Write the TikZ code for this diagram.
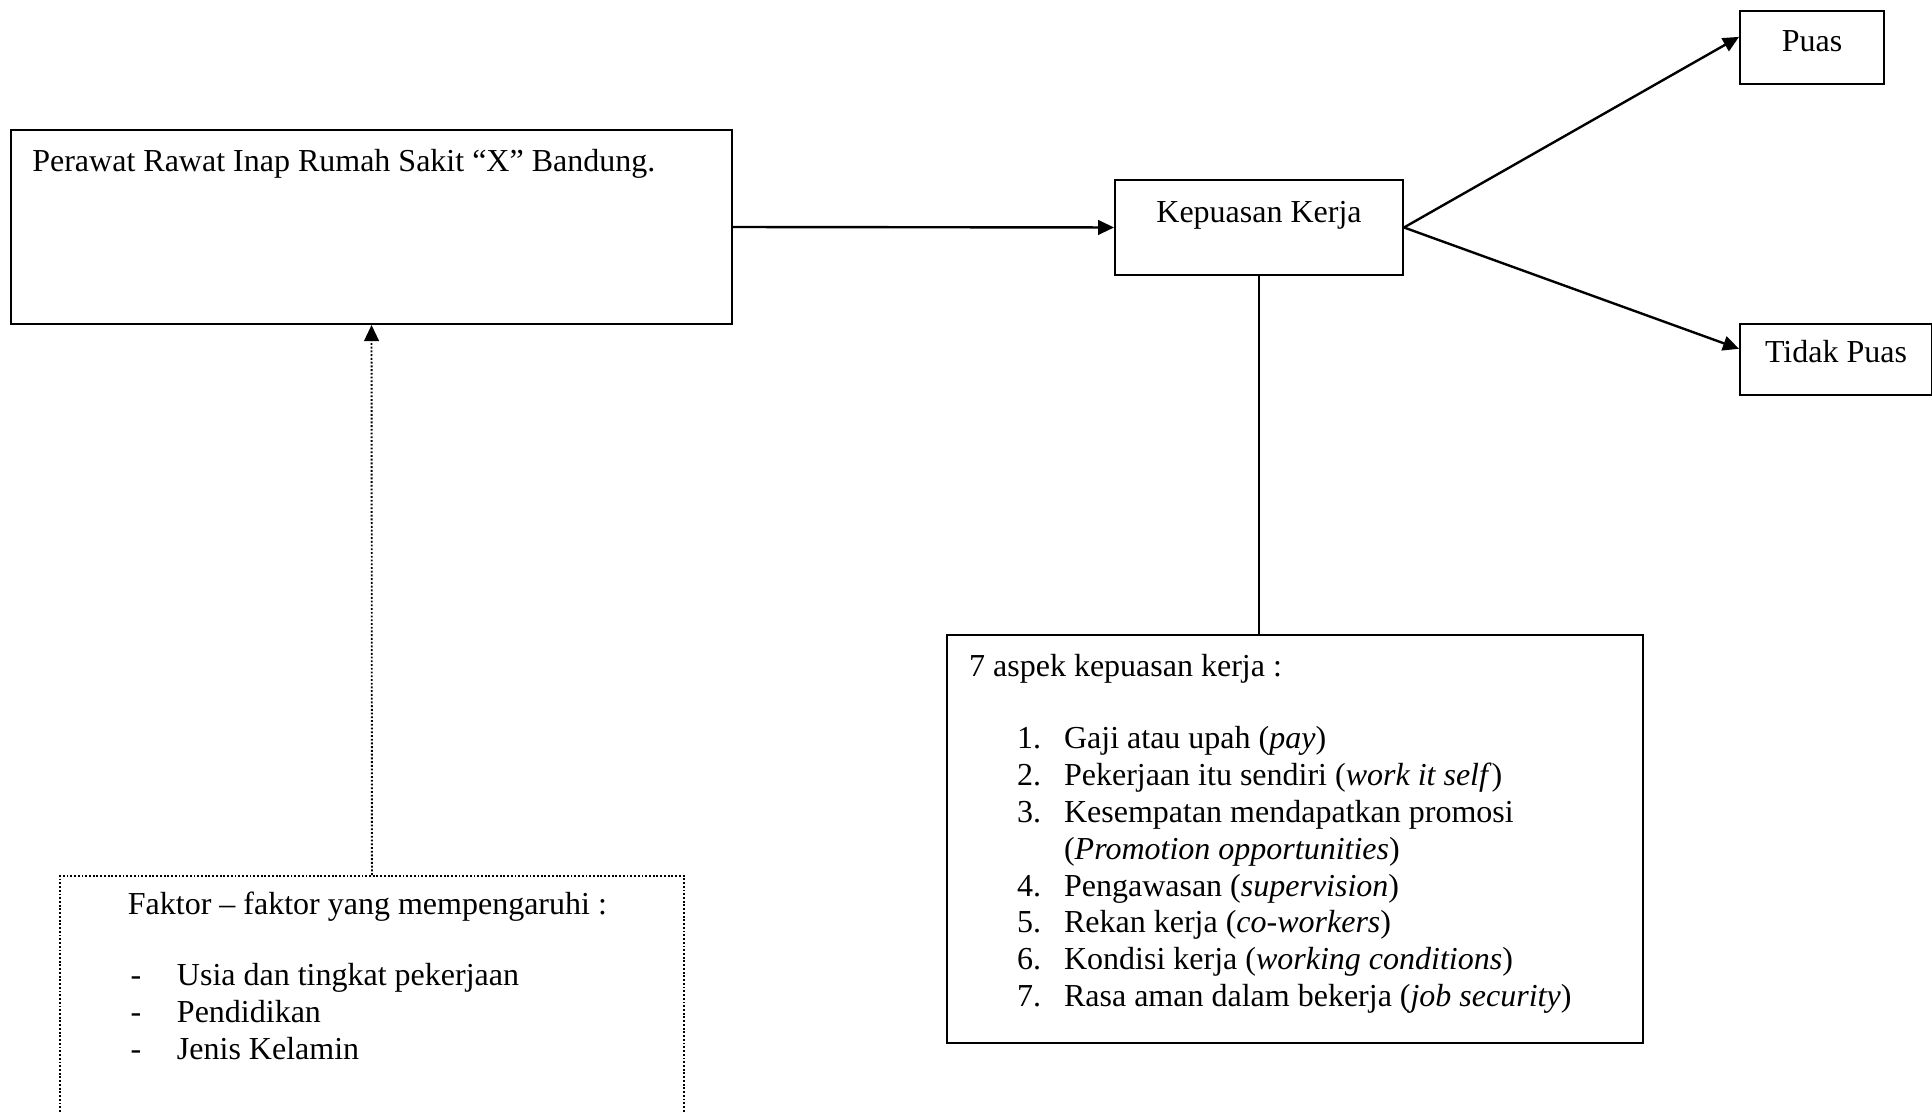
\documentclass[tikz,border=0pt]{standalone}
\usepackage{fontspec}
\setmainfont{Liberation Serif}
\usetikzlibrary{arrows.meta}

\tikzset{
  kotak/.style={draw, line width=0.75pt, inner sep=0pt, anchor=north west,
    font=\fontsize{12}{13.8}\selectfont},
  titik/.style={dash pattern=on 0.7pt off 0.7pt, line width=0.7pt},
  panah/.style={-{Triangle[length=6pt,width=5.5pt]}},
}
\newcommand{\butir}[2]{\hspace*{18pt}\makebox[17.6pt][l]{#1}#2}
\newcommand{\poin}[1]{\makebox[18.4pt][l]{\hspace{1pt}-}#1}

\begin{document}
\begin{tikzpicture}[x=0.375pt,y=-0.375pt]
  \useasboundingbox (0,0) rectangle (1932,1111);
  \clip (0,0) rectangle (1932,1111);
  \draw
    (10,129) node[kotak, inner xsep=8pt, text width=254.4pt, align=flush left,
      text height=15.4pt, text depth=57.35pt] (perawat)
      {Perawat Rawat Inap Rumah Sakit “X” Bandung.}
    (1114,179) node[kotak, minimum width=108pt, text height=16pt,
      text depth=19.6pt] (kepuasan) {Kepuasan Kerja}
    (1739,10) node[kotak, minimum width=54pt, text height=15pt,
      text depth=12.4pt] (puas) {Puas}
    (1739,323) node[kotak, minimum width=72pt, text height=14.6pt,
      text depth=12pt] (tidakpuas) {Tidak Puas}
    (946,634) node[kotak, inner xsep=8.3pt, text width=244.4pt, align=flush left,
      text height=15.4pt, text depth=137.6pt] (aspek)
      {7 aspek kepuasan kerja :\\[13.5pt]
       \butir{1.}{Gaji atau upah (\textit{pay})}\\
       \butir{2.}{Pekerjaan itu sendiri (\textit{work it self})}\\
       \butir{3.}{Kesempatan mendapatkan promosi}\\
       \butir{}{(\textit{Promotion opportunities})}\\
       \butir{4.}{Pengawasan (\textit{supervision})}\\
       \butir{5.}{Rekan kerja (\textit{co-workers})}\\
       \butir{6.}{Kondisi kerja (\textit{working conditions})}\\
       \butir{7.}{Rasa aman dalam bekerja (\textit{job security})}}
    (59,875) node[kotak, titik, text width=234pt, align=flush left,
      text height=14.6pt, text depth=84.8pt] (faktor)
      {\leftskip=25.5pt Faktor – faktor yang mempengaruhi :\\[12.8pt]
       \poin{Usia dan tingkat pekerjaan}\\
       \poin{Pendidikan}\\
       \poin{Jenis Kelamin}\par};
  \begin{scope}[panah, line width=0.9pt]
    \draw (perawat.east) to (kepuasan.west);
    \draw (kepuasan.east) to ([yshift=4pt]puas.west);
    \draw (kepuasan.east) to ([yshift=4pt]tidakpuas.west);
  \end{scope}
  \draw[line width=0.6pt] (kepuasan.south) to (kepuasan.south |- aspek.north);
  \draw[titik, panah] (faktor.north) to (perawat.south);
\end{tikzpicture}
\end{document}
